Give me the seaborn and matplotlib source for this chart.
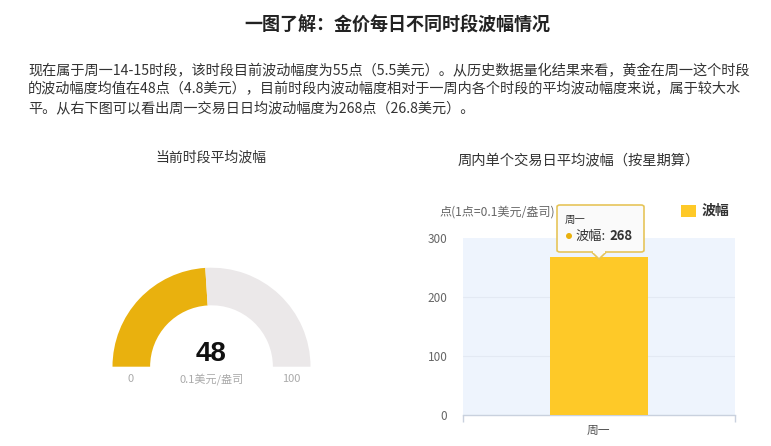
import matplotlib
matplotlib.use("Agg")

import matplotlib.pyplot as plt
import matplotlib.patches as mpatches
import seaborn as sns
import pandas as pd

sns.set_theme(style="white")
plt.rcParams["font.family"] = ["Noto Sans CJK SC", "DejaVu Sans"]

# data
title = "一图了解：金价每日不同时段波幅情况"
para_lines = [
    "现在属于周一14-15时段，该时段目前波动幅度为55点（5.5美元）。从历史数据量化结果来看，黄金在周一这个时段",
    "的波动幅度均值在48点（4.8美元），目前时段内波动幅度相对于一周内各个时段的平均波动幅度来说，属于较大水",
    "平。从右下图可以看出周一交易日日均波动幅度为268点（26.8美元）。",
]
gauge_value = 48
gauge_max = 100
gauge_unit = "0.1美元/盎司"

days = ["周一"]
amplitude = [268]
y_ticks = [0, 100, 200, 300]
series_name = "波幅"

GOLD = "#E9B10E"
GAUGE_GRAY = "#EBE8E9"
BAR = "#FEC928"
W, H = 771, 446


def fx(x):
    return x / W


def fy(y):
    return 1 - y / H


fig = plt.figure(figsize=(W / 100, H / 100), dpi=100)
fig.patch.set_facecolor("white")

fig.text(fx(397), fy(25), title, ha="center", va="center",
         fontsize=13, fontweight="bold", color="#222222")
for i, line in enumerate(para_lines):
    fig.text(fx(28), fy(71 + i * 18.5), line, ha="left", va="center",
             fontsize=10.2, color="#333333")

# ---- gauge ----
fig.text(fx(211), fy(158), "当前时段平均波幅", ha="center", va="center",
         fontsize=10, color="#333333")

gx = fig.add_axes([fx(112.5), fy(366.7), 198 / W, 99 / H])
gx.pie([gauge_value, gauge_max - gauge_value, gauge_max],
       colors=[GOLD, GAUGE_GRAY, "none"], startangle=180, counterclock=False,
       radius=1, wedgeprops=dict(width=0.38, linewidth=0))
gx.set_xlim(-1, 1)
gx.set_ylim(0, 1)
gx.set_aspect("auto")
gx.axis("off")

fig.text(fx(211.5), fy(354), str(gauge_value), ha="center", va="center",
         fontsize=20, fontweight="bold", color="#111111",
         family=["Liberation Sans", "DejaVu Sans"])
for x, s in [(131, "0"), (211.5, gauge_unit), (291, str(gauge_max))]:
    fig.text(fx(x), fy(379), s, ha="center", va="center",
             fontsize=8, color="#AAAAAA")

# ---- bar chart ----
fig.text(fx(579), fy(160), "周内单个交易日平均波幅（按星期算）", ha="center",
         va="center", fontsize=10.3, color="#333333")

df = pd.DataFrame({"day": days, "amp": amplitude})
ax = fig.add_axes([fx(462.7), fy(415.3), (735 - 462.7) / W, (415.3 - 238.3) / H])
ax.set_facecolor("#EEF4FD")
sns.barplot(data=df, x="day", y="amp", color=BAR, width=0.36,
            saturation=1, linewidth=0, ax=ax, zorder=3)
ax.set_xlim(-0.5, 0.5)
ax.set_ylim(0, 300)
ax.set_yticks(y_ticks)
ax.set_xlabel("")
ax.set_ylabel("")
for v in y_ticks[1:-1]:
    ax.axhline(v, color="#E3E9F3", lw=0.8, zorder=1)
for side in ["top", "right", "left"]:
    ax.spines[side].set_visible(False)
ax.spines["bottom"].set_color("#C9D1DE")
ax.spines["bottom"].set_linewidth(1)
ax.tick_params(axis="y", length=0, pad=11, labelsize=8.5, labelcolor="#666666")
ax.tick_params(axis="x", which="major", length=0, pad=6, labelsize=8.5,
               labelcolor="#555555")
ax.set_xticks([-0.5, 0.5], minor=True)
ax.tick_params(axis="x", which="minor", length=5, color="#C9D1DE", width=1,
               bottom=True)

fig.text(fx(440), fy(212), "点(1点=0.1美元/盎司)", ha="left", va="center",
         fontsize=8.7, color="#666666")

# legend
fig.patches.append(mpatches.Rectangle((fx(681), fy(217)), 15 / W, 12 / H,
                                      transform=fig.transFigure,
                                      facecolor=BAR, edgecolor="none"))
fig.text(fx(702), fy(211), series_name, ha="left", va="center",
         fontsize=10, fontweight="bold", color="#333333")

# tooltip
tip = mpatches.FancyBboxPatch((fx(557), fy(252)), 87 / W, 47 / H,
                              boxstyle="round,pad=0,rounding_size=0.004",
                              transform=fig.transFigure, facecolor="#FAFAFA",
                              edgecolor="#E6C55A", linewidth=1.2, zorder=10)
fig.patches.append(tip)
caret = mpatches.Polygon([(fx(592), fy(252.3)), (fx(599), fy(259)),
                          (fx(606), fy(252.3))], closed=False,
                         transform=fig.transFigure, facecolor="#FAFAFA",
                         edgecolor="#E6C55A", linewidth=1.2, zorder=10)
fig.patches.append(caret)
fig.patches.append(mpatches.Rectangle((fx(593), fy(253.2)), 12 / W, 2 / H,
                                      transform=fig.transFigure,
                                      facecolor="#FAFAFA", edgecolor="none",
                                      zorder=11))
fig.text(fx(565), fy(220), days[0], ha="left", va="center", fontsize=7.5,
         color="#333333", zorder=12)
fig.patches.append(mpatches.Ellipse((fx(569), fy(236)), 6 / W, 6 / H,
                                    transform=fig.transFigure,
                                    facecolor=GOLD, edgecolor="none", zorder=12))
fig.text(fx(576), fy(236), f"{series_name}:", ha="left", va="center",
         fontsize=9.5, color="#333333", zorder=12)
fig.text(fx(609), fy(236), str(amplitude[0]), ha="left", va="center",
         fontsize=9.5, fontweight="bold", color="#333333", zorder=12)

fig.savefig("out.png", dpi=100)
